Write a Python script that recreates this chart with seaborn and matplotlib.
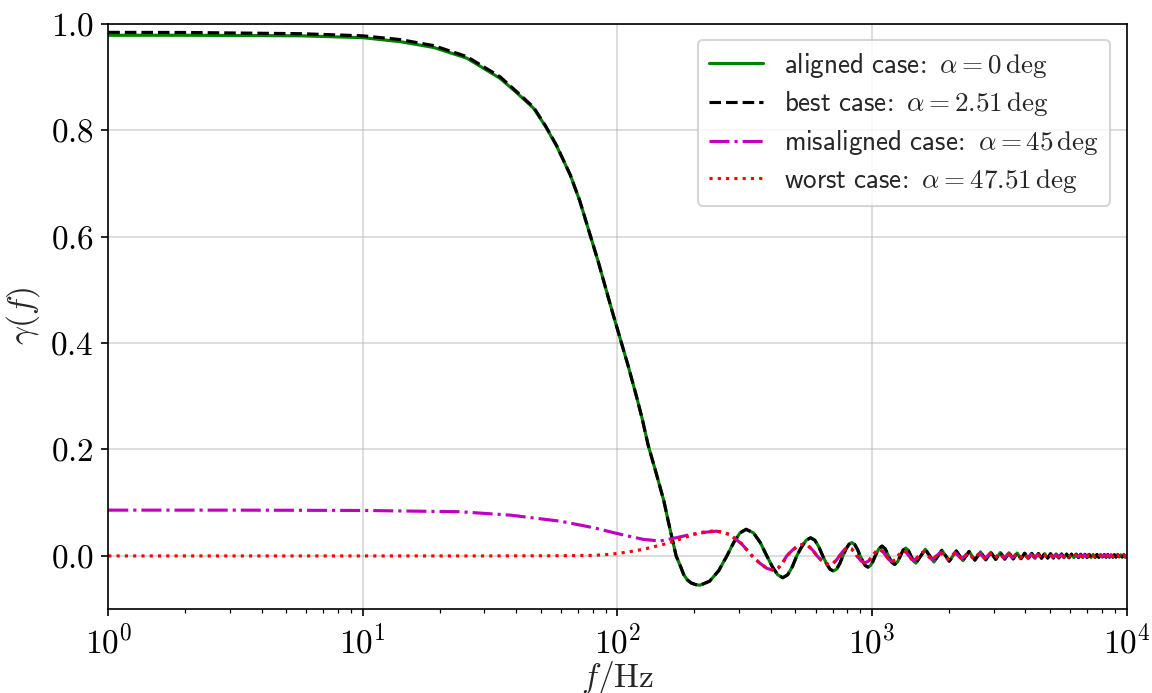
import numpy as np
import matplotlib
matplotlib.use("Agg")
import matplotlib.pyplot as plt
import seaborn as sns

# low-frequency plateau
f_low = [1, 2, 5.7, 10, 14, 19, 25.6, 34.6, 40, 46.8, 52, 57.8]
gamma_aligned_low = [0.978, 0.978, 0.977, 0.9735, 0.966, 0.955, 0.935, 0.897, 0.871, 0.841,
                     0.808, 0.769]
gamma_best_low = [0.9835, 0.9833, 0.981, 0.977, 0.970, 0.9585, 0.938, 0.900, 0.873, 0.843,
                  0.809, 0.770]

# main drop and first oscillations (aligned / best are indistinguishable here)
f_drop = [65.2, 71, 78, 84, 89.5, 95, 102.5, 110, 119, 125, 132, 142, 152, 160, 165, 170,
          177, 182, 188, 195, 203, 211,
          230, 250, 269, 286, 303, 320, 342, 364, 386, 406, 426, 446, 466, 486, 506,
          529, 551, 574, 596, 618, 640, 662, 683, 705, 726, 747, 768, 789, 811, 832,
          854, 876, 898, 920, 941, 963, 985, 1007, 1029,
          1062, 1094, 1127, 1160, 1192, 1225, 1258, 1291, 1323, 1356, 1388, 1421, 1454, 1487]
gamma_drop = [0.716, 0.668, 0.604, 0.553, 0.506, 0.462, 0.408, 0.358, 0.298, 0.258, 0.208,
              0.155, 0.104, 0.055, 0.027, 0.0,
              -0.020, -0.035, -0.045, -0.051, -0.054, -0.055,
              -0.0476, -0.0275, 0.0, 0.025, 0.0433, 0.050, 0.0433, 0.025, 0.0,
              -0.0205, -0.0355, -0.041, -0.0355, -0.0205, 0.0,
              0.017, 0.0294, 0.034, 0.0294, 0.017, 0.0,
              -0.0143, -0.0247, -0.0285, -0.0247, -0.0143, 0.0,
              0.0125, 0.0217, 0.025, 0.0217, 0.0125, 0.0,
              -0.0105, -0.0182, -0.021, -0.0182, -0.0105, 0.0,
              0.013, 0.0185, 0.013, 0.0, -0.0115, -0.016, -0.0115, 0.0, 0.0105, 0.0148,
              0.0105, 0.0, -0.0095, -0.0134]

# high-frequency wiggles, peaks and troughs only
f_tail = [1618, 1749, 1880, 2011, 2142, 2273, 2404, 2535, 2666, 2797, 2928, 3059, 3190,
          3321, 3452, 3583, 3714, 3845, 3976, 4107, 4238, 4369, 4500, 4631, 4762, 4893,
          5024, 5155, 5286, 5417, 5548, 5679, 5810, 5941, 6072, 6203, 6334, 6465, 6596,
          6727, 6858, 6989, 7120, 7251, 7382, 7513, 7644, 7775, 7906, 8037, 8168, 8299,
          8430, 8561, 8692, 8823, 8954, 9085, 9216, 9347, 9478, 9609, 9740, 9871, 10000]
gamma_tail = [0.0124, -0.0114, 0.0106, -0.0099, 0.0093, -0.0088, 0.0083, -0.0079, 0.0075,
              -0.0072, 0.0068, -0.0065, 0.0063, -0.0060, 0.0058, -0.0056, 0.0054, -0.0052,
              0.0050, -0.0049, 0.0047, -0.0046, 0.0044, -0.0043, 0.0042, -0.0041, 0.0040,
              -0.0039, 0.0038, -0.0037, 0.0036, -0.0035, 0.0034, -0.0034, 0.0033, -0.0032,
              0.0032, -0.0031, 0.0030, -0.0030, 0.0029, -0.0029, 0.0028, -0.0028, 0.0027,
              -0.0027, 0.0026, -0.0026, 0.0025, -0.0025, 0.0024, -0.0024, 0.0024, -0.0023,
              0.0023, -0.0023, 0.0022, -0.0022, 0.0022, -0.0021, 0.0021, -0.0021, 0.0021,
              -0.0020, 0.0]

# misaligned / worst cases
f_mis_low = [1, 3, 10, 24, 38, 60, 80.5, 102.5, 126.5, 147, 166, 193, 224, 245, 276]
gamma_mis_low = [0.086, 0.086, 0.0854, 0.083, 0.0766, 0.065, 0.053, 0.0407, 0.031, 0.028,
                 0.033, 0.040, 0.0447, 0.0465, 0.040]
f_worst_low = [1, 10, 30, 60, 80, 94, 108.6, 126.5, 147, 161, 183, 211, 238, 260, 277]
gamma_worst_low = [0.0, 0.0, 0.0, 0.0003, 0.001, 0.003, 0.007, 0.0125, 0.020, 0.025,
                   0.0345, 0.044, 0.047, 0.045, 0.040]

f_mis_osc = [307, 338, 362, 386, 410, 427, 445, 462, 487, 512, 537, 561, 584, 608,
             632, 656, 680, 702, 723, 745, 766, 786, 807, 829, 850, 872,
             905, 938, 970, 1003, 1036, 1069, 1102, 1134, 1167, 1200, 1233,
             1265, 1298, 1331, 1364, 1396, 1429, 1462]
gamma_mis_osc = [0.023, 0.0, -0.0135, -0.0234, -0.027, -0.0234, -0.0135, 0.0,
                 0.011, 0.019, 0.022, 0.019, 0.011, 0.0,
                 -0.0083, -0.0143, -0.0165, -0.0143, -0.0083, 0.0,
                 0.0078, 0.0134, 0.0155, 0.0134, 0.0078, 0.0,
                 -0.0094, -0.0133, -0.0094, 0.0, 0.0083, 0.0117, 0.0083, 0.0, -0.0074,
                 -0.0104, -0.0074, 0.0, 0.0066, 0.0094, 0.0066, 0.0, -0.006, -0.0085]

f_mis_tail = [1593, 1724, 1855, 1986, 2117, 2248, 2379, 2510, 2641, 2772, 2903, 3034, 3165,
              3296, 3427, 3558, 3689, 3820, 3951, 4082, 4213, 4344, 4475, 4606, 4737, 4868,
              4999, 5130, 5261, 5392, 5523, 5654, 5785, 5916, 6047, 6178, 6309, 6440, 6571,
              6702, 6833, 6964, 7095, 7226, 7357, 7488, 7619, 7750, 7881, 8012, 8143, 8274,
              8405, 8536, 8667, 8798, 8929, 9060, 9191, 9322, 9453, 9584, 9715, 9846, 10000]
gamma_mis_tail = [0.0078, -0.0073, 0.0067, -0.0063, 0.0059, -0.0056, 0.0053, -0.0050, 0.0047,
                  -0.0045, 0.0043, -0.0041, 0.0039, -0.0038, 0.0036, -0.0035, 0.0034, -0.0033,
                  0.0032, -0.0031, 0.0030, -0.0029, 0.0028, -0.0027, 0.0026, -0.0026, 0.0025,
                  -0.0024, 0.0024, -0.0023, 0.0023, -0.0022, 0.0022, -0.0021, 0.0021, -0.0020,
                  0.0020, -0.0019, 0.0019, -0.0019, 0.0018, -0.0018, 0.0018, -0.0017, 0.0017,
                  -0.0017, 0.0016, -0.0016, 0.0016, -0.0016, 0.0015, -0.0015, 0.0015, -0.0015,
                  0.0014, -0.0014, 0.0014, -0.0014, 0.0014, -0.0013, 0.0013, -0.0013, 0.0013,
                  -0.0013, 0.0]

# stitch the pieces together
f_aligned = np.concatenate([f_low, f_drop, f_tail])
g_aligned = np.concatenate([gamma_aligned_low, gamma_drop, gamma_tail])
g_best = np.concatenate([gamma_best_low, gamma_drop, gamma_tail])
f_mis = np.concatenate([f_mis_low, f_mis_osc, f_mis_tail])
g_mis = np.concatenate([gamma_mis_low, gamma_mis_osc, gamma_mis_tail])
f_worst = np.concatenate([f_worst_low, f_mis_osc, f_mis_tail])
g_worst = np.concatenate([gamma_worst_low, gamma_mis_osc, gamma_mis_tail])

sns.set_style("ticks")
plt.rcParams.update({
    "font.family": "serif",
    "font.serif": ["cmr10"],
    "mathtext.fontset": "cm",
    "axes.formatter.use_mathtext": True,
    "axes.edgecolor": "black",
    "axes.linewidth": 0.8,
    "xtick.color": "black",
    "ytick.color": "black",
    "xtick.major.size": 3.5,
    "ytick.major.size": 3.5,
    "xtick.minor.size": 2,
    "xtick.major.width": 0.8,
    "ytick.major.width": 0.8,
    "xtick.minor.width": 0.6,
})

fig, ax = plt.subplots(figsize=(7.68, 4.62), dpi=150)
fig.subplots_adjust(left=0.094, right=0.978, top=0.966, bottom=0.121)

sns.lineplot(x=f_aligned, y=g_aligned, ax=ax, color="g", lw=1.5, estimator=None, sort=False,
             label=r"$\mathsf{aligned\ case\!:}\ \alpha = 0\,\mathrm{deg}$")
sns.lineplot(x=f_aligned, y=g_best, ax=ax, color="k", lw=1.5, linestyle="--", estimator=None,
             sort=False, label=r"$\mathsf{best\ case\!:}\ \alpha = 2.51\,\mathrm{deg}$")
sns.lineplot(x=f_mis, y=g_mis, ax=ax, color="m", lw=1.5, linestyle="-.", estimator=None,
             sort=False, label=r"$\mathsf{misaligned\ case\!:}\ \alpha = 45\,\mathrm{deg}$")
sns.lineplot(x=f_worst, y=g_worst, ax=ax, color="r", lw=1.5, linestyle=":", estimator=None,
             sort=False, label=r"$\mathsf{worst\ case\!:}\ \alpha = 47.51\,\mathrm{deg}$")

ax.set_xscale("log")
ax.set_xlim(1, 1e4)
ax.set_ylim(-0.1, 1.0)
ax.set_yticks([0.0, 0.2, 0.4, 0.6, 0.8, 1.0])
ax.tick_params(labelsize=16)
ax.grid(True, which="major", color="#b0b0b0", alpha=0.5, lw=0.8)
ax.set_xlabel(r"$f/\mathrm{Hz}$", fontsize=16, labelpad=0)
ax.set_ylabel(r"$\gamma(f)$", fontsize=16)

ax.legend(loc="upper right", fontsize=13, frameon=True, fancybox=True,
          framealpha=0.8, edgecolor="0.8", labelspacing=0.36, borderaxespad=0.6)

fig.savefig("out.png", dpi=150)
